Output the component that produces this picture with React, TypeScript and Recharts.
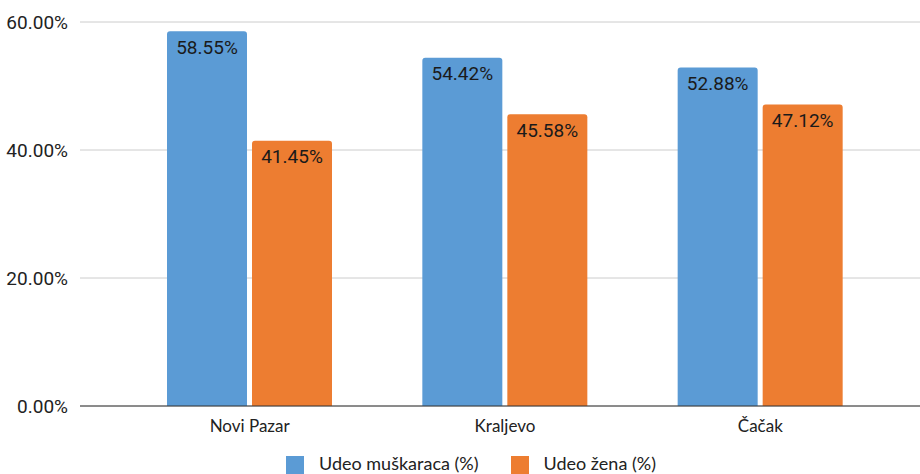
import { BarChart, Bar, XAxis, YAxis, CartesianGrid, Legend, LabelList } from "recharts";

const cities = ["Novi Pazar", "Kraljevo", "Čačak"];
const menShare = [58.55, 54.42, 52.88];
const womenShare = [41.45, 45.58, 47.12];
const yTicks = [0, 20, 40, 60];

const data = cities.map((city, i) => ({
  city,
  men: menShare[i],
  women: womenShare[i],
}));

const pct = (v: number) => `${v.toFixed(2)}%`;

export default function App() {
  return (
    <div style={{ position: "absolute", left: 0, top: 0, background: "#fff" }}>
      <BarChart
        width={920}
        height={474}
        data={data}
        margin={{ top: 22, right: 0, bottom: 0, left: 0 }}
        barSize={80}
        barGap={5}
      >
        <CartesianGrid vertical={false} stroke="#cccccc" />
        <XAxis
          dataKey="city"
          padding={{ left: 42, right: 32 }}
          tickLine={false}
          axisLine={{ stroke: "#333333" }}
          tick={{ fill: "#222", fontSize: 17, fontFamily: "Lato" }}
          tickMargin={8}
          height={46}
        />
        <YAxis
          width={80}
          domain={[0, 60]}
          ticks={yTicks}
          tickFormatter={pct}
          axisLine={false}
          tickLine={false}
          tickSize={0}
          tickMargin={12}
          tick={{ fill: "#222", fontSize: 19, fontFamily: "Roboto" }}
        />
        <Legend
          verticalAlign="bottom"
          height={22}
          iconType="square"
          iconSize={18}
          wrapperStyle={{ fontFamily: "Lato", fontSize: 18, paddingLeft: 54, boxSizing: "border-box" }}
          formatter={(value: string) => (
            <span style={{ color: "#222", marginLeft: 11, marginRight: 22 }}>{value}</span>
          )}
        />
        <Bar dataKey="men" name="Udeo muškaraca (%)" fill="#5b9bd5" radius={[3, 3, 0, 0]} isAnimationActive={false}>
          <LabelList dataKey="men" position="insideTop" offset={9} formatter={pct} fill="#1a1a1a" fontSize={19} fontFamily="Roboto" />
        </Bar>
        <Bar dataKey="women" name="Udeo žena (%)" fill="#ed7d31" radius={[3, 3, 0, 0]} isAnimationActive={false}>
          <LabelList dataKey="women" position="insideTop" offset={9} formatter={pct} fill="#1a1a1a" fontSize={19} fontFamily="Roboto" />
        </Bar>
      </BarChart>
    </div>
  );
}
